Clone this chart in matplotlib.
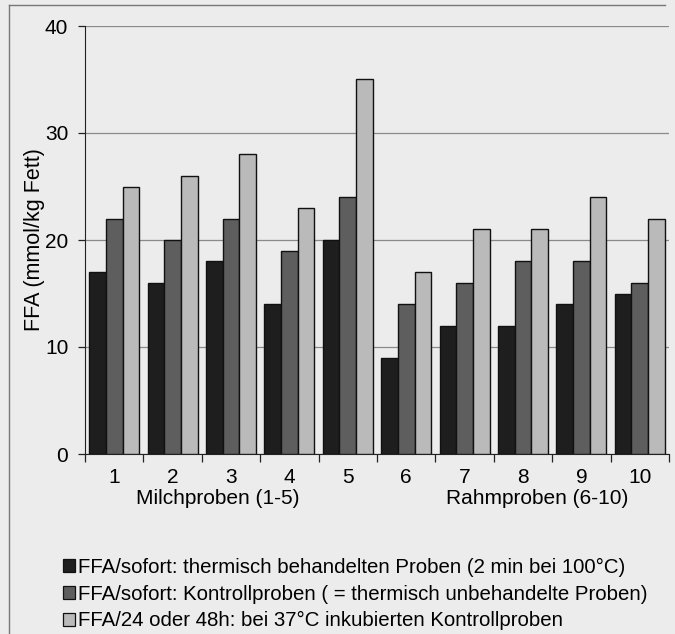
import numpy as np
import matplotlib.pyplot as plt
from matplotlib.patches import Patch
from matplotlib.lines import Line2D

plt.rcParams['font.family'] = ['Liberation Sans', 'DejaVu Sans']

# ===== data
samples = ['1', '2', '3', '4', '5', '6', '7', '8', '9', '10']
ffa_heated = [17, 16, 18, 14, 20, 9, 12, 12, 14, 15]
ffa_control = [22, 20, 22, 19, 24, 14, 16, 18, 18, 16]
ffa_incubated = [25, 26, 28, 23, 35, 17, 21, 21, 24, 22]
series_labels = ['FFA/sofort: thermisch behandelten Proben (2 min bei 100°C)',
                 'FFA/sofort: Kontrollproben ( = thermisch unbehandelte Proben)',
                 'FFA/24 oder 48h: bei 37°C inkubierten Kontrollproben']
colors = ['#1e1e1e', '#5e5e5e', '#bababa']
bg = '#ececec'
fs = 15

fig = plt.figure(figsize=(6.75, 6.34), dpi=100, facecolor=bg)
ax = fig.add_axes([85/675, 1-454/634, 584/675, 428/634], facecolor=bg)

x = np.arange(len(samples))
w = 1/3.5  # excel style: gap = half a bar
for k, vals in enumerate([ffa_heated, ffa_control, ffa_incubated]):
    ax.bar(x + (k-1)*w, vals, width=w, color=colors[k], edgecolor='#111111', linewidth=1.0, zorder=3)

ax.set_xlim(-0.5, len(samples)-0.5)
ax.set_ylim(0, 40)
ax.set_yticks([0, 10, 20, 30, 40])
ax.yaxis.grid(True, color='#8a8a8a', linewidth=0.9, zorder=0)
for s in ['top', 'right']:
    ax.spines[s].set_visible(False)
ax.spines['left'].set_color('#222222')
ax.spines['bottom'].set_color('#222222')

# labels at the centres, tick marks at the category borders
ax.set_xticks(x)
ax.set_xticklabels(samples)
ax.tick_params(axis='x', which='major', length=0, pad=10, labelsize=fs)
ax.set_xticks(np.arange(len(samples)+1) - 0.5, minor=True)
ax.tick_params(axis='x', which='minor', length=6, width=0.9, color='#222222')
ax.tick_params(axis='y', length=5, width=0.9, color='#222222', labelsize=fs, pad=7)
ax.set_ylabel('FFA (mmol/kg Fett)', fontsize=15.5, labelpad=0)

# group captions
ax.text(1.78, -0.105, 'Milchproben (1-5)', transform=ax.get_xaxis_transform(),
        ha='center', va='center', fontsize=fs)
ax.text(7.24, -0.105, 'Rahmproben (6-10)', transform=ax.get_xaxis_transform(),
        ha='center', va='center', fontsize=fs)

handles = [Patch(facecolor=c, edgecolor='#111111', linewidth=0.9) for c in colors]
fig.legend(handles, series_labels, loc='upper left', bbox_to_anchor=(63/675, 1-558/634),
           frameon=False, fontsize=14.7, handlelength=0.6, handleheight=0.6,
           handletextpad=0.15, labelspacing=0.37, borderpad=0, borderaxespad=0)

# frame of the scanned figure
fig.add_artist(Line2D([8.5/675, 8.5/675], [0, 1-5/634], color='#777777', linewidth=1))
fig.add_artist(Line2D([8.5/675, 665/675], [1-5/634, 1-5/634], color='#777777', linewidth=1))

fig.savefig('out.png', dpi=100, facecolor=bg)
